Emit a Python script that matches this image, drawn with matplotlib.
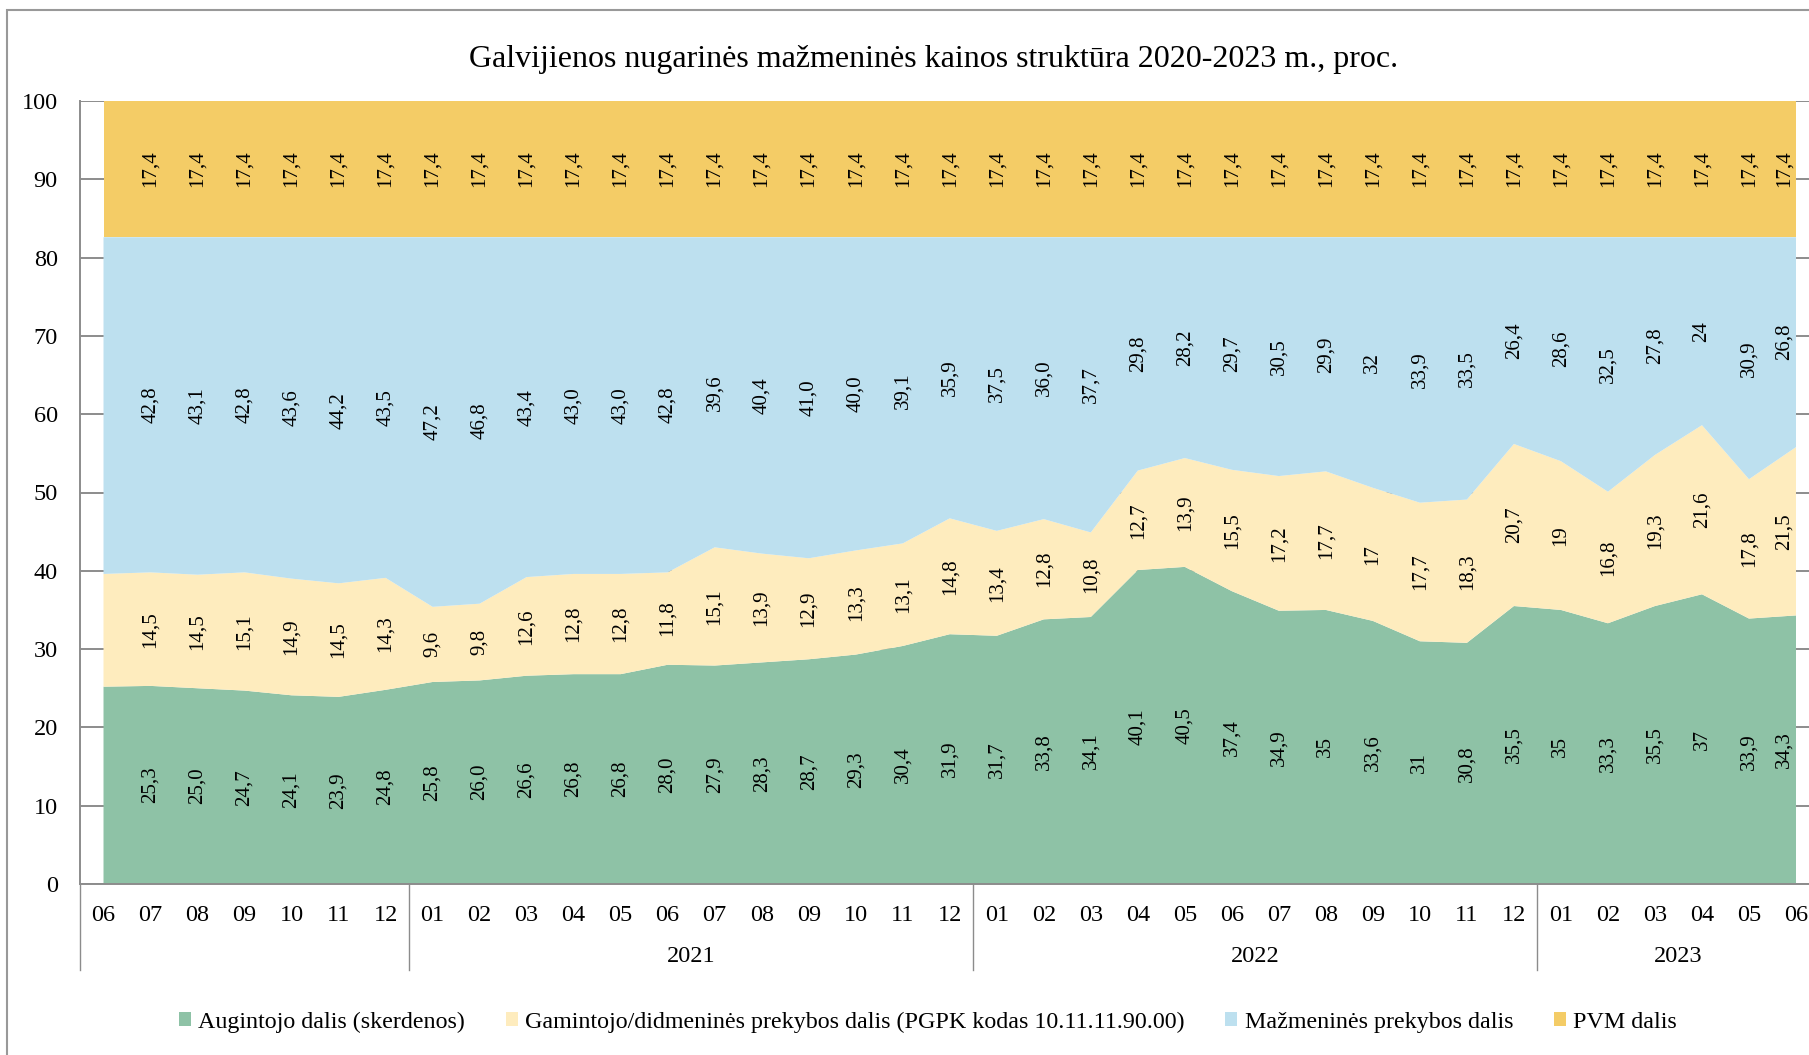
import matplotlib
matplotlib.use("Agg")
import matplotlib.pyplot as plt
import matplotlib.transforms as mtransforms
from matplotlib.patches import Patch, Rectangle
import numpy as np

plt.rcParams['font.family'] = ['Liberation Serif', 'DejaVu Serif']

# ---------------- data ----------------
title = "Galvijienos nugarinės mažmeninės kainos struktūra 2020-2023 m., proc."

months = ["06", "07", "08", "09", "10", "11", "12",
          "01", "02", "03", "04", "05", "06", "07", "08", "09", "10", "11", "12",
          "01", "02", "03", "04", "05", "06", "07", "08", "09", "10", "11", "12",
          "01", "02", "03", "04", "05", "06"]

year_labels = ["2021", "2022", "2023"]
year_first_idx = [7, 19, 31]
year_last_idx = [18, 30, 36]

# first point (2020-06) is not labelled in the original; its value is estimated
grower = ["25,2", "25,3", "25,0", "24,7", "24,1", "23,9", "24,8",
          "25,8", "26,0", "26,6", "26,8", "26,8", "28,0", "27,9", "28,3", "28,7", "29,3", "30,4", "31,9",
          "31,7", "33,8", "34,1", "40,1", "40,5", "37,4", "34,9", "35", "33,6", "31", "30,8", "35,5",
          "35", "33,3", "35,5", "37", "33,9", "34,3"]
producer = ["14,4", "14,5", "14,5", "15,1", "14,9", "14,5", "14,3",
            "9,6", "9,8", "12,6", "12,8", "12,8", "11,8", "15,1", "13,9", "12,9", "13,3", "13,1", "14,8",
            "13,4", "12,8", "10,8", "12,7", "13,9", "15,5", "17,2", "17,7", "17", "17,7", "18,3", "20,7",
            "19", "16,8", "19,3", "21,6", "17,8", "21,5"]
retail = ["43,0", "42,8", "43,1", "42,8", "43,6", "44,2", "43,5",
          "47,2", "46,8", "43,4", "43,0", "43,0", "42,8", "39,6", "40,4", "41,0", "40,0", "39,1", "35,9",
          "37,5", "36,0", "37,7", "29,8", "28,2", "29,7", "30,5", "29,9", "32", "33,9", "33,5", "26,4",
          "28,6", "32,5", "27,8", "24", "30,9", "26,8"]
vat = ["17,4"] * 37

series_names = ["Augintojo dalis (skerdenos)",
                "Gamintojo/didmeninės prekybos dalis (PGPK kodas 10.11.11.90.00)",
                "Mažmeninės prekybos dalis",
                "PVM dalis"]
series_labels = [grower, producer, retail, vat]
colors = ["#8EC2A6", "#FEECBE", "#BDE0EF", "#F4CC66"]

# ---------------- figure ----------------
W, H = 1809, 1055
fig = plt.figure(figsize=(W / 100, H / 100), dpi=100)

ax_left, ax_right = 80 / W, 1819.5 / W
ax_bottom, ax_top = 1 - 884 / H, 1 - 101 / H
ax = fig.add_axes([ax_left, ax_bottom, ax_right - ax_left, ax_top - ax_bottom])

n = len(months)
x = np.arange(n)
vals = [np.array([float(s.replace(",", ".")) for s in lbls]) for lbls in series_labels]

ax.stackplot(x, *vals, colors=colors, linewidth=0, zorder=2)

# data labels (last column nudged left so it stays inside the chart, as in the original)
shift_last = mtransforms.ScaledTranslation(-12 / 100, 0, fig.dpi_scale_trans)
bottom = np.zeros(n)
for v, lbls in zip(vals, series_labels):
    for i in range(1, n):
        tr = ax.transData + shift_last if i == n - 1 else ax.transData
        ax.text(x[i], bottom[i] + v[i] / 2, lbls[i], rotation=90, transform=tr,
                ha="center", va="center", fontsize=15, color="black", zorder=5)
    bottom = bottom + v

ax.set_xlim(-0.5, n - 0.5)
ax.set_ylim(0, 100)
ax.set_yticks(np.arange(0, 101, 10))
ax.yaxis.grid(True, color="#8C8C8C", linewidth=1.4, zorder=0)
ax.set_axisbelow(True)
ax.tick_params(axis="y", length=0, pad=16, labelsize=17.5)
ax.set_xticks(x)
ax.set_xticklabels(months)
ax.tick_params(axis="x", length=0, pad=15, labelsize=17.5)

for s in ["top", "right"]:
    ax.spines[s].set_visible(False)
for s in ["left", "bottom"]:
    ax.spines[s].set_color("#8C8C8C")
    ax.spines[s].set_linewidth(1.4)

# category group separators and year labels
trans = mtransforms.blended_transform_factory(ax.transData, ax.transAxes)
sep_low = -(970 - 884) / (884 - 101)
for xs in [-0.5, 6.5, 18.5, 30.5]:
    ax.plot([xs, xs], [0, sep_low], transform=trans, color="#8C8C8C",
            linewidth=1.0, clip_on=False)
year_y = -(957 - 884) / (884 - 101)
for lab, a, b in zip(year_labels, year_first_idx, year_last_idx):
    ax.text((a + b) / 2, year_y, lab, transform=trans, ha="center", va="center",
            fontsize=17.5)

# title
fig.text(934 / W, 1 - 60 / H, title, ha="center", va="center", fontsize=23)

# legend
handles = [Patch(facecolor=c, edgecolor="none") for c in colors]
fig.legend(handles, series_names, loc="center", bbox_to_anchor=(928 / W, 1 - 1022 / H),
           ncol=4, frameon=False, fontsize=17.3, handlelength=0.5, handleheight=0.5,
           handletextpad=0.3, columnspacing=1.7)

# outer chart border
fig.add_artist(Rectangle((7 / W, -0.05), 1.2, 1.05 - 10 / H, transform=fig.transFigure,
                         fill=False, edgecolor="#999999", linewidth=1.5))

fig.savefig("out.png", dpi=100)
